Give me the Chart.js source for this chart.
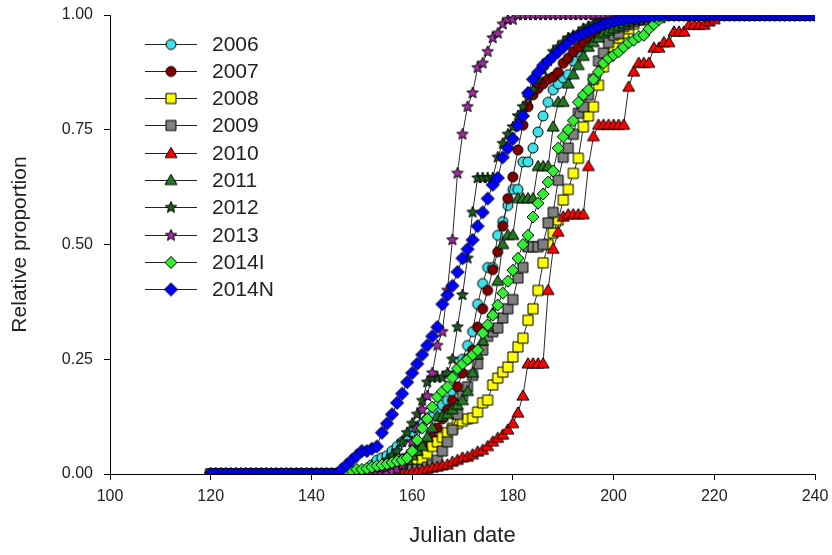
<!DOCTYPE html>
<html><head><meta charset="utf-8">
<script src="https://cdn.jsdelivr.net/npm/chart.js@4.4.1/dist/chart.umd.min.js"></script>
<style>html,body{margin:0;padding:0;background:#fff;}#wrap{width:832px;height:555px;}</style>
</head><body><div id="wrap"><canvas id="c" width="832" height="555"></canvas></div>
<script>
const julianDays = [120,121,122,123,124,125,126,127,128,129,130,131,132,133,134,135,136,137,138,139,140,141,142,143,144,145,146,147,148,149,150,151,152,153,154,155,156,157,158,159,160,161,162,163,164,165,166,167,168,169,170,171,172,173,174,175,176,177,178,179,180,181,182,183,184,185,186,187,188,189,190,191,192,193,194,195,196,197,198,199,200,201,202,203,204,205,206,207,208,209,210,211,212,213,214,215,216,217,218,219,220,221,222,223,224,225,226,227,228,229,230,231,232,233,234,235,236,237,238,239,240];
const seriesNames = ['2006','2007','2008','2009','2010','2011','2012','2013','2014I','2014N'];
const xTicks = [100,120,140,160,180,200,220,240];
const yTicks = [0,0.25,0.5,0.75,1];

const y2006 = [0,0,0,0,0,0,0,0,0,0, 0,0,0,0,0,0,0,0,0,0, 0,0,0,0,0,0,0,0,0,0,
 0.005,0.01,0.02,0.03,0.035,0.04,0.05,0.06,0.07,0.08,
 0.09,0.10,0.11,0.12,0.13,0.14,0.15,0.16,0.18,0.22,
 0.25,0.28,0.31,0.37,0.415,0.45,0.45,0.52,0.55,0.585,
 0.62,0.62,0.68,0.68,0.71,0.745,0.78,0.81,0.837,0.85,
 0.863,0.87,0.90,0.92,0.93,0.94,0.95,0.96,0.97,0.98,
 0.99,0.99,1,1,1,1,1,1,1,1, 1,1,1,1,1,1,1,1,1,1, 1,1,1,1,1,1,1,1,1,1, 1,1,1,1,1,1,1,1,1,1, 1];
const y2007 = [0,0,0,0,0,0,0,0,0,0, 0,0,0,0,0,0,0,0,0,0, 0,0,0,0,0,0,0,0,0,0,
 0,0,0,0.005,0.01,0.015,0.02,0.025,0.03,0.035,
 0.04,0.05,0.06,0.07,0.08,0.10,0.12,0.14,0.16,0.19,
 0.22,0.25,0.27,0.32,0.36,0.40,0.445,0.484,0.54,0.60,
 0.647,0.706,0.76,0.80,0.826,0.84,0.85,0.86,0.865,0.875,
 0.895,0.906,0.92,0.93,0.94,0.95,0.955,0.96,0.97,0.975,
 0.98,0.985,0.99,0.99,0.995,1,1,1,1,1, 1,1,1,1,1,1,1,1,1,1, 1,1,1,1,1,1,1,1,1,1, 1,1,1,1,1,1,1,1,1,1, 1];
const y2008 = [0,0,0,0,0,0,0,0,0,0, 0,0,0,0,0,0,0,0,0,0, 0,0,0,0,0,0,0,0,0,0,
 0,0,0,0,0,0.005,0.005,0.008,0.01,0.015,
 0.02,0.025,0.03,0.045,0.06,0.07,0.08,0.09,0.10,0.11,
 0.115,0.12,0.122,0.135,0.155,0.161,0.194,0.209,0.222,0.233,
 0.255,0.277,0.296,0.335,0.36,0.40,0.46,0.50,0.525,0.553,
 0.597,0.62,0.655,0.688,0.756,0.78,0.80,0.847,0.887,0.91,
 0.93,0.95,0.96,0.97,0.98,0.99,0.99,1,1,1, 1,1,1,1,1,1,1,1,1,1, 1,1,1,1,1,1,1,1,1,1, 1,1,1,1,1,1,1,1,1,1, 1];
const y2009 = [0,0,0,0,0,0,0,0,0,0, 0,0,0,0,0,0,0,0,0,0, 0,0,0,0,0,0,0,0,0,0,
 0,0,0,0,0,0.005,0.005,0.005,0.005,0.008,
 0.01,0.01,0.01,0.015,0.02,0.03,0.05,0.07,0.096,0.13,
 0.17,0.19,0.215,0.24,0.27,0.30,0.31,0.318,0.34,0.36,
 0.38,0.427,0.45,0.495,0.495,0.495,0.50,0.547,0.57,0.64,
 0.69,0.71,0.74,0.786,0.80,0.826,0.86,0.90,0.917,0.94,
 0.956,0.96,0.975,0.98,0.985,0.99,0.99,0.995,1,1, 1,1,1,1,1,1,1,1,1,1, 1,1,1,1,1,1,1,1,1,1, 1,1,1,1,1,1,1,1,1,1, 1];
const y2010 = [0,0,0,0,0,0,0,0,0,0, 0,0,0,0,0,0,0,0,0,0, 0,0,0,0,0,0,0,0,0,0,
 0,0,0,0,0,0,0,0,0,0,
 0.003,0.005,0.007,0.01,0.013,0.015,0.018,0.02,0.026,0.03,
 0.035,0.037,0.042,0.048,0.052,0.06,0.07,0.078,0.085,0.096,
 0.11,0.133,0.17,0.24,0.24,0.24,0.24,0.40,0.49,0.527,
 0.56,0.565,0.565,0.565,0.565,0.67,0.735,0.76,0.76,0.76,
 0.76,0.76,0.76,0.843,0.876,0.895,0.895,0.895,0.928,0.928,
 0.94,0.94,0.963,0.963,0.963,0.978,0.978,0.978,0.978,0.985,
 0.99,1,1,1,1,1,1,1,1,1, 1,1,1,1,1,1,1,1,1,1, 1];
const y2011 = [0,0,0,0,0,0,0,0,0,0, 0,0,0,0,0,0,0,0,0,0, 0,0,0,0,0,0,0,0,0,0,
 0.003,0.003,0.005,0.005,0.01,0.01,0.015,0.02,0.025,0.03,
 0.04,0.05,0.06,0.08,0.10,0.125,0.125,0.13,0.14,0.15,
 0.16,0.18,0.22,0.26,0.29,0.32,0.35,0.42,0.50,0.52,
 0.52,0.60,0.60,0.60,0.60,0.67,0.67,0.67,0.756,0.81,
 0.81,0.85,0.87,0.89,0.91,0.93,0.94,0.95,0.96,0.965,
 0.97,0.975,0.98,0.985,0.99,0.99,0.995,1,1,1, 1,1,1,1,1,1,1,1,1,1, 1,1,1,1,1,1,1,1,1,1, 1,1,1,1,1,1,1,1,1,1, 1];
const y2012 = [0,0,0,0,0,0,0,0,0,0, 0,0,0,0,0,0,0,0,0,0, 0,0,0,0,0,0,0,0,0,0,
 0.005,0.005,0.01,0.015,0.02,0.03,0.04,0.05,0.07,0.09,
 0.11,0.13,0.16,0.20,0.21,0.21,0.21,0.22,0.25,0.32,
 0.39,0.47,0.57,0.645,0.645,0.645,0.645,0.69,0.72,0.74,
 0.756,0.78,0.80,0.82,0.837,0.86,0.88,0.90,0.92,0.93,
 0.94,0.95,0.955,0.96,0.97,0.975,0.98,0.985,0.99,0.99,
 0.995,1,1,1,1,1,1,1,1,1, 1,1,1,1,1,1,1,1,1,1, 1,1,1,1,1,1,1,1,1,1, 1,1,1,1,1,1,1,1,1,1, 1];
const y2013 = [0,0,0,0,0,0,0,0,0,0, 0,0,0,0,0,0,0,0,0,0, 0,0,0,0,0,0,0,0,0,0,
 0,0,0,0,0,0,0.005,0.01,0.02,0.04,
 0.07,0.10,0.14,0.17,0.22,0.28,0.31,0.40,0.51,0.655,
 0.74,0.80,0.83,0.885,0.895,0.92,0.95,0.96,0.98,0.99,
 0.99,1,1,1,1,1,1,1,1,1,
 1,1,1,1,1,1,1,1,1,1, 1,1,1,1,1,1,1,1,1,1, 1,1,1,1,1,1,1,1,1,1, 1,1,1,1,1,1,1,1,1,1, 1,1,1,1,1,1,1,1,1,1, 1];
const y2014I = [0,0,0,0,0,0,0,0,0,0, 0,0,0,0,0,0,0,0,0,0,
 0,0,0,0,0,0,0.003,0.005,0.007,0.01,
 0.01,0.012,0.015,0.018,0.02,0.022,0.025,0.028,0.03,0.035,
 0.05,0.074,0.10,0.12,0.146,0.168,0.18,0.19,0.21,0.23,
 0.24,0.25,0.26,0.27,0.307,0.325,0.346,0.368,0.394,0.42,
 0.444,0.47,0.50,0.52,0.56,0.59,0.61,0.636,0.66,0.71,
 0.735,0.75,0.77,0.81,0.826,0.837,0.86,0.876,0.895,0.906,
 0.913,0.92,0.93,0.94,0.945,0.953,0.956,0.97,0.98,0.99,
 0.995,1,1,1,1,1,1,1,1,1, 1,1,1,1,1,1,1,1,1,1, 1,1,1,1,1,1,1,1,1,1, 1];
const y2014N = [0,0,0,0,0,0,0,0,0,0, 0,0,0,0,0,0,0,0,0,0,
 0,0,0,0,0,0,0.01,0.02,0.03,0.04,
 0.05,0.05,0.055,0.06,0.09,0.11,0.13,0.155,0.175,0.20,
 0.22,0.24,0.26,0.28,0.30,0.32,0.37,0.39,0.41,0.44,
 0.47,0.49,0.51,0.54,0.57,0.60,0.63,0.645,0.69,0.71,
 0.73,0.76,0.78,0.83,0.86,0.875,0.89,0.90,0.91,0.92,
 0.93,0.94,0.95,0.955,0.96,0.965,0.97,0.975,0.98,0.983,
 0.986,0.988,0.99,0.992,0.993,0.995,0.996,0.997,0.998,0.999,
 1,1,1,1,1,1,1,1,1,1, 1,1,1,1,1,1,1,1,1,1, 1,1,1,1,1,1,1,1,1,1, 1];

const seriesValues = [y2006,y2007,y2008,y2009,y2010,y2011,y2012,y2013,y2014I,y2014N];

// marker styles
const markerShapes = ['circle','circle','square','square','triangle','triangle','star','star','diamond','diamond'];
const markerFills = ['#40e0e8','#800000','#ffff00','#808080','#ff0000','#237a23','#1d5a1d','#a22ca2','#33ee33','#0000ff'];
const markerSizes = [10,10,10,10,12,12,12,12,12,13];
const FONT = '"Liberation Sans", Arial, sans-serif';

function makeMarker(shape, fill, sz) {
  const c = document.createElement('canvas');
  const S = 18; c.width = S; c.height = S;
  const g = c.getContext('2d');
  const m = S / 2;
  g.beginPath();
  if (shape === 'circle') g.arc(m, m, sz / 2, 0, Math.PI * 2);
  else if (shape === 'square') g.rect(m - sz / 2, m - sz / 2, sz, sz);
  else if (shape === 'diamond') { g.moveTo(m, m - sz / 2); g.lineTo(m + sz / 2, m); g.lineTo(m, m + sz / 2); g.lineTo(m - sz / 2, m); g.closePath(); }
  else if (shape === 'triangle') { const h = sz * 0.85; g.moveTo(m, m - h * 0.6); g.lineTo(m + sz / 2, m + h * 0.4); g.lineTo(m - sz / 2, m + h * 0.4); g.closePath(); }
  else if (shape === 'star') {
    for (let k = 0; k < 10; k++) {
      const r = k % 2 === 0 ? sz / 2 : sz * 0.22;
      const a = -Math.PI / 2 + k * Math.PI / 5;
      const px = m + r * Math.cos(a), py = m + r * Math.sin(a);
      if (k === 0) g.moveTo(px, py); else g.lineTo(px, py);
    }
    g.closePath();
  }
  g.fillStyle = fill; g.fill();
  g.lineWidth = 1; g.strokeStyle = '#000'; g.stroke();
  return c;
}

const datasets = seriesNames.map((name, i) => ({
  label: name,
  data: julianDays.map((d, k) => ({ x: d, y: seriesValues[i][k] })),
  borderColor: '#2a2a2a',
  borderWidth: 1,
  pointStyle: makeMarker(markerShapes[i], markerFills[i], markerSizes[i]),
  pointRadius: 5,
  tension: 0,
  fill: false,
  order: seriesNames.length - 1 - i
}));

const legendPlugin = {
  id: 'insideLegend',
  afterDraw(chart) {
    const ctx = chart.ctx;
    ctx.save();
    chart.data.datasets.forEach((ds, i) => {
      const y = Math.round(43.5 + i * 27.3);
      ctx.strokeStyle = '#222';
      ctx.lineWidth = 1;
      ctx.beginPath();
      ctx.moveTo(145, y + 0.5);
      ctx.lineTo(197, y + 0.5);
      ctx.stroke();
      ctx.drawImage(ds.pointStyle, 171 - 9, y - 8.5);
      ctx.fillStyle = '#222';
      ctx.font = '21px ' + FONT;
      ctx.textBaseline = 'middle';
      ctx.textAlign = 'left';
      ctx.fillText(ds.label, 212, y + 1);
    });
    ctx.restore();
  }
};

new Chart(document.getElementById('c'), {
  type: 'line',
  data: { datasets },
  options: {
    responsive: false,
    animation: false,
    devicePixelRatio: 1,
    layout: { padding: { left: 0, right: 17, top: 15, bottom: 0 } },
    plugins: { legend: { display: false }, tooltip: { enabled: false } },
    scales: {
      x: {
        type: 'linear', min: 100, max: 240,
        afterFit(s) { s.height = 81; s.paddingLeft = 0; s.paddingRight = 0; },
        afterBuildTicks(s) { s.ticks = xTicks.map(v => ({ value: v })); },
        ticks: { color: '#222', font: { family: FONT, size: 16 }, padding: 7, maxRotation: 0 },
        grid: { display: true, drawOnChartArea: false, drawTicks: true, tickLength: 6, color: '#000' },
        border: { display: true, color: '#000', width: 1 },
        title: { display: true, text: 'Julian date', color: '#222', font: { family: FONT, size: 22 }, padding: { top: 0, bottom: 6 } }
      },
      y: {
        type: 'linear', min: 0, max: 1,
        afterFit(s) { s.width = 110; s.paddingTop = 0; s.paddingBottom = 0; },
        afterBuildTicks(s) { s.ticks = yTicks.map(v => ({ value: v })); },
        ticks: { color: '#222', font: { family: FONT, size: 16 }, padding: 11, callback: v => Number(v).toFixed(2) },
        grid: { display: true, drawOnChartArea: false, drawTicks: true, tickLength: 6, color: '#000' },
        border: { display: true, color: '#000', width: 1 },
        title: { display: true, text: 'Relative proportion', color: '#222', font: { family: FONT, size: 21 }, padding: { top: 8, bottom: 0 } }
      }
    }
  },
  plugins: [legendPlugin]
});
</script></body></html>
